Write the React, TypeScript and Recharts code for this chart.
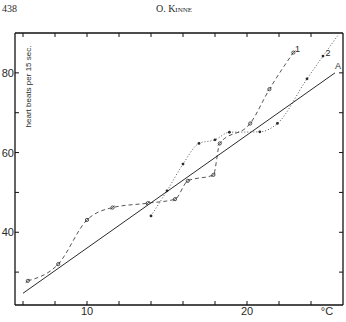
import React from "react";
import { LineChart, Line, XAxis, YAxis } from "recharts";

// Temperature (°C) and heart beats per 15 sec.
const lineATemp = [6.0, 25.5];
const lineARate = [24.7, 80.0];

const curve1Temp = [6.3, 8.2, 10.0, 11.6, 13.8, 15.5, 16.3, 17.9, 18.3, 20.2, 21.4, 22.9];
const curve1Rate = [27.8, 32.0, 43.1, 46.2, 47.3, 48.3, 52.9, 54.4, 62.3, 67.3, 75.9, 85.1];

const curve2Temp = [14.0, 15.0, 16.0, 17.0, 18.0, 18.9, 20.8, 21.9, 23.75, 24.75, 25.7];
const curve2Rate = [44.1, 50.4, 57.1, 62.3, 63.2, 65.1, 65.2, 67.3, 78.5, 84.2, 89.5];

const xTickValues = [6, 8, 10, 12, 14, 16, 18, 20, 22, 24];
const xTickLabels: Record<number, string> = { 10: "10", 20: "20", 25: "°C" };
const yTickValues = [30, 40, 50, 60, 70, 80];
const yTickLabels: Record<number, string> = { 40: "40", 60: "60", 80: "80" };

const seriesNames = ["1", "2", "A"];

const lineA = lineATemp.map((t, i) => ({ t, v: lineARate[i] }));
const curve1 = curve1Temp.map((t, i) => ({ t, v: curve1Rate[i] }));
const curve2 = curve2Temp.map((t, i) => ({ t, v: curve2Rate[i] }));

const INK = "#2a2a2a";
const FRAME = "#111";
const SANS = "'Liberation Sans', Arial, sans-serif";
const SERIF = "'Liberation Serif', 'Times New Roman', serif";

const BottomTick = (p: any) => {
  const { x, y, payload } = p;
  const v = payload.value;
  const lab = xTickLabels[v];
  return (
    <g>
      {v !== 25 && <line x1={x} x2={x} y1={y} y2={y - 4} stroke={FRAME} strokeWidth={1} />}
      {lab && (
        <text x={x} y={y + 10} textAnchor="middle" fontSize={11} fontFamily={SANS} fill={INK}>
          {lab}
        </text>
      )}
    </g>
  );
};

const TopTick = (p: any) => {
  const { x, y } = p;
  return <line x1={x} x2={x} y1={y} y2={y + 4} stroke={FRAME} strokeWidth={1} />;
};

const LeftTick = (p: any) => {
  const { x, y, payload } = p;
  const lab = yTickLabels[payload.value];
  return (
    <g>
      <line x1={x} x2={x + 4} y1={y} y2={y} stroke={FRAME} strokeWidth={1} />
      {lab && (
        <text x={x - 1} y={y + 4} textAnchor="end" fontSize={11} fontFamily={SANS} fill={INK}>
          {lab}
        </text>
      )}
    </g>
  );
};

const RightTick = (p: any) => {
  const { x, y } = p;
  return <line x1={x} x2={x - 4} y1={y} y2={y} stroke={FRAME} strokeWidth={1} />;
};

const OpenDot = (p: any) => {
  const { cx, cy, index } = p;
  return (
    <g key={`o${index}`}>
      <circle cx={cx} cy={cy} r={1.6} fill="#fff" stroke={INK} strokeWidth={0.8} />
      <line x1={cx - 2} y1={cy + 2} x2={cx + 2} y2={cy - 2} stroke={INK} strokeWidth={0.7} />
    </g>
  );
};

const FilledDot = (p: any) => {
  const { cx, cy, index } = p;
  if (index === curve2.length - 1) return <g key={`f${index}`} />;
  return <circle key={`f${index}`} cx={cx} cy={cy} r={1.4} fill={INK} stroke="none" />;
};

const endLabel = (name: string, last: number, dx: number, dy: number) => (p: any) => {
  const { x, y, index } = p;
  if (index !== last) return null;
  return (
    <text x={x + dx} y={y + dy} fontSize={9} fontFamily={SANS} fill={INK} textAnchor="middle">
      {name}
    </text>
  );
};

export default function App() {
  return (
    <div style={{ position: "absolute", left: 0, top: 0, width: 346, height: 322, background: "#fff" }}>
      <LineChart width={346} height={322} margin={{ top: 0, right: 0, bottom: 0, left: 0 }}>
        <XAxis
          xAxisId="b"
          type="number"
          dataKey="t"
          domain={[5.5, 26]}
          allowDataOverflow
          ticks={[...xTickValues, 25]}
          interval={0}
          height={17}
          tickSize={0}
          tickMargin={0}
          tickLine={false}
          tick={<BottomTick />}
          axisLine={{ stroke: FRAME, strokeWidth: 1.3 }}
        />
        <XAxis
          xAxisId="t"
          orientation="top"
          type="number"
          dataKey="t"
          domain={[5.5, 26]}
          allowDataOverflow
          ticks={xTickValues}
          interval={0}
          height={33}
          tickSize={0}
          tickMargin={0}
          tickLine={false}
          tick={<TopTick />}
          axisLine={{ stroke: FRAME, strokeWidth: 1.3 }}
        />
        <YAxis
          yAxisId="l"
          type="number"
          domain={[21.75, 90]}
          allowDataOverflow
          ticks={yTickValues}
          interval={0}
          width={15}
          tickSize={0}
          tickMargin={0}
          tickLine={false}
          tick={<LeftTick />}
          axisLine={{ stroke: FRAME, strokeWidth: 1.3 }}
        />
        <YAxis
          yAxisId="r"
          orientation="right"
          type="number"
          domain={[21.75, 90]}
          allowDataOverflow
          ticks={yTickValues}
          interval={0}
          width={3}
          tickSize={0}
          tickMargin={0}
          tickLine={false}
          tick={<RightTick />}
          axisLine={{ stroke: FRAME, strokeWidth: 1.3 }}
        />
        <Line
          xAxisId="b"
          yAxisId="l"
          data={lineA}
          dataKey="v"
          type="linear"
          stroke={INK}
          strokeWidth={1}
          dot={false}
          isAnimationActive={false}
          label={endLabel(seriesNames[2], lineA.length - 1, 3, -4)}
        />
        <Line
          xAxisId="b"
          yAxisId="l"
          data={curve1}
          dataKey="v"
          type="monotone"
          stroke={INK}
          strokeWidth={0.8}
          strokeDasharray="4 3"
          dot={OpenDot}
          isAnimationActive={false}
          label={endLabel(seriesNames[0], curve1.length - 1, 4, -1)}
        />
        <Line
          xAxisId="b"
          yAxisId="l"
          data={curve2}
          dataKey="v"
          type="monotone"
          stroke={INK}
          strokeWidth={0.8}
          strokeDasharray="1 2"
          dot={FilledDot}
          isAnimationActive={false}
          label={(p: any) => endLabel(seriesNames[1], curve2.length - 2, 5, 0)(p)}
        />
      </LineChart>
      <svg
        width={346}
        height={322}
        style={{ position: "absolute", left: 0, top: 0, pointerEvents: "none" }}
      >
        <text x={2} y={12} fontSize={10} fontFamily={SERIF} fill={INK}>
          438
        </text>
        <text x={174} y={12} fontSize={10} fontFamily={SERIF} fill={INK} textAnchor="middle" style={{ fontVariant: "small-caps" }}>
          O. Kinne
        </text>
        <text
          x={0}
          y={0}
          transform="translate(31 86.5) rotate(-90)"
          fontSize={8}
          fontFamily={SANS}
          fill={INK}
          textAnchor="middle"
        >
          heart beats per 15 sec.
        </text>
      </svg>
    </div>
  );
}
